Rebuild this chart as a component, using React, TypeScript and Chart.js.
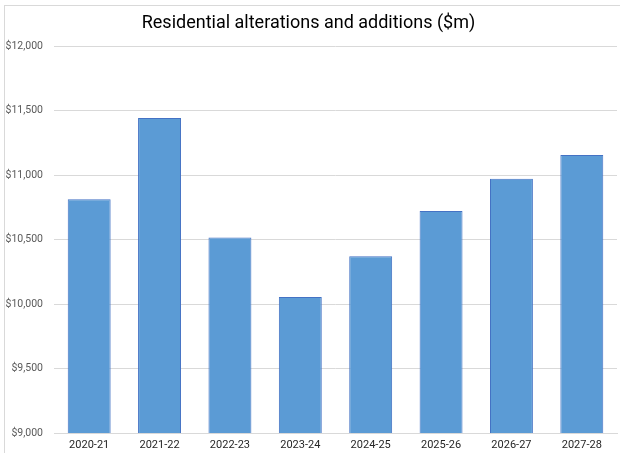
import React, { useEffect, useRef } from "react";
import { Chart, registerables } from "chart.js";

Chart.register(...registerables);

const categories = ["2020-21", "2021-22", "2022-23", "2023-24", "2024-25", "2025-26", "2026-27", "2027-28"];
const values = [10812, 11442, 10516, 10054, 10370, 10720, 10970, 11156];
const yTicks = [9000, 9500, 10000, 10500, 11000, 11500, 12000];
const titleText = "Residential alterations and additions ($m)";

const frame = {
  id: "frame",
  beforeDraw(chart: any) {
    const ctx = chart.ctx;
    ctx.save();
    ctx.fillStyle = "#ffffff";
    ctx.fillRect(0, 0, chart.width, chart.height);
    ctx.strokeStyle = "#d9d9d9";
    ctx.lineWidth = 1;
    ctx.strokeRect(4.5, 5.5, 800, 800);
    ctx.restore();
  },
};

export default function App() {
  const ref = useRef<HTMLCanvasElement>(null);
  useEffect(() => {
    document.body.style.margin = "0";
    const chart = new Chart(ref.current!, {
      type: "bar",
      data: {
        labels: categories,
        datasets: [
          {
            data: values,
            backgroundColor: "#5b9bd5",
            borderColor: "#4472c4",
            borderWidth: 1,
            categoryPercentage: 1,
            barPercentage: 0.61,
          },
        ],
      },
      options: {
        responsive: false,
        animation: false,
        layout: { padding: { left: 0, right: 3, top: 0, bottom: 0 } },
        plugins: {
          legend: { display: false },
          tooltip: { enabled: false },
          title: {
            display: true,
            text: titleText,
            color: "#000000",
            font: { family: "Roboto", size: 18, weight: "normal" },
            padding: { top: 13, bottom: 11.4 },
          },
        },
        scales: {
          x: {
            grid: { display: false, drawTicks: false },
            border: { display: true, color: "#d9d9d9" },
            ticks: { color: "#262626", font: { family: "Roboto", size: 11 }, padding: 6, maxRotation: 0 },
            afterFit(scale: any) {
              scale.height = 20;
            },
          },
          y: {
            min: 9000,
            max: 12000,
            afterBuildTicks(scale: any) {
              scale.ticks = yTicks.map((v) => ({ value: v }));
            },
            grid: { color: "#d9d9d9", drawTicks: false },
            border: { display: false },
            ticks: {
              color: "#595959",
              font: { family: "Roboto", size: 10.5 },
              padding: 11,
              callback: (v: any) => "$" + Number(v).toLocaleString("en-US"),
            },
            afterFit(scale: any) {
              scale.width = 54;
            },
          },
        },
      },
      plugins: [frame],
    });
    return () => chart.destroy();
  }, []);
  return <canvas ref={ref} width={620} height={453} style={{ display: "block" }} />;
}
